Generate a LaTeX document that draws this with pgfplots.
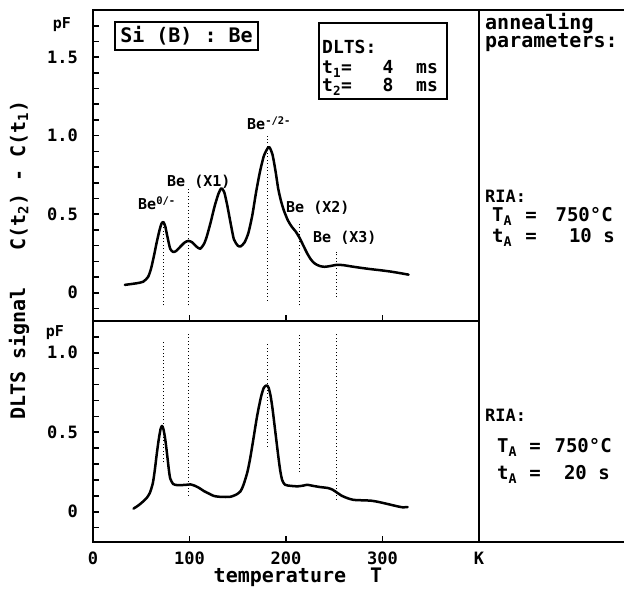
\documentclass[border=0pt]{standalone}
\usepackage{fontspec}
\setmainfont{DejaVu Sans Mono}
\usepackage{pgfplots}
\pgfplotsset{compat=1.18}
\newcommand\fs[1]{\fontsize{#1}{#1}\selectfont}
\pgfplotsset{
  panel/.style={
    scale only axis, width=386pt, xmin=0, xmax=400, clip=false,
    axis line style={line width=1.8pt},
    tick style={black, line width=1.6pt},
    major tick length=6pt, minor tick length=6pt,
    tick align=inside,
    xtick={0,100,200,300,400},
    xtick pos=bottom, ytick pos=left,
    yticklabel style={font=\fs{17pt}, anchor=east, xshift=-15pt, inner sep=0pt},
    xticklabel style={font=\fs{17pt}, anchor=base, yshift=-23pt, inner sep=0pt},
    /pgf/number format/assume math mode=true,
  },
  curve/.style={black, line width=2.5pt, smooth, tension=0.4, line join=round, line cap=round},
  markline/.style={black, line width=1pt, dash pattern=on 1pt off 2.5pt},
}
\begin{document}
\bfseries
\begin{tikzpicture}
\useasboundingbox (0pt,0pt) rectangle (624pt,599pt);
% ---------------- top panel ----------------
\begin{axis}[panel, name=top, at={(93pt,278pt)}, anchor=south west,
  height=311pt, ymin=-0.18, ymax=1.8,
  ytick={0,0.5,1,1.5}, yticklabels={0,0.5,1.0,1.5},
  minor ytick={-0.1,0.1,0.2,0.3,0.4,0.6,0.7,0.8,0.9,1.1,1.2,1.3,1.4,1.6,1.7},
  xticklabels={}]
\addplot[curve] coordinates {
(33,0.05) (45,0.06) (52,0.07) (57,0.10) (60,0.15) (63,0.23) (66,0.32) (69,0.40)
(71,0.44) (73,0.45) (75,0.42) (77,0.36) (80,0.28) (83,0.26) (86,0.265) (90,0.29)
(95,0.32) (99,0.33) (103,0.32) (107,0.295) (111,0.28) (115,0.31) (118,0.36)
(122,0.45) (126,0.55) (130,0.63) (133,0.665) (136,0.64) (139,0.56) (143,0.43)
(146,0.34) (150,0.30) (153,0.295) (157,0.32) (161,0.38) (165,0.49) (169,0.64)
(173,0.77) (177,0.87) (181,0.92) (183,0.925) (186,0.88) (189,0.78) (192,0.66)
(195,0.58) (198,0.52) (202,0.46) (206,0.42) (210,0.39) (214,0.35) (218,0.30)
(222,0.25) (226,0.21) (230,0.185) (235,0.17) (240,0.165) (246,0.17) (253,0.178)
(260,0.175) (267,0.168) (278,0.158) (288,0.15) (298,0.143) (308,0.135)
(318,0.125) (327,0.115)};
\addplot[markline] coordinates {(73,-0.08) (73,0.44)};
\addplot[markline] coordinates {(99,-0.08) (99,0.67)};
\addplot[markline] coordinates {(181,-0.05) (181,1.0)};
\addplot[markline] coordinates {(214,-0.08) (214,0.45)};
\addplot[markline] coordinates {(252,-0.03) (252,0.26)};
\end{axis}
% ---------------- bottom panel ----------------
\begin{axis}[panel, name=bot, at={(93pt,57pt)}, anchor=south west,
  height=221pt, ymin=-0.19, ymax=1.2,
  ytick={0,0.5,1}, yticklabels={0,0.5,1.0},
  minor ytick={-0.1,0.1,0.2,0.3,0.4,0.6,0.7,0.8,0.9,1.1},
  xticklabels={0,100,200,300,K}]
\addplot[curve] coordinates {
(42,0.02) (47,0.04) (52,0.065) (56,0.09) (59,0.12) (62,0.18) (64,0.26) (66,0.36)
(68,0.45) (70,0.52) (71.5,0.54) (73,0.52) (75,0.45) (77,0.35) (78.5,0.27)
(80,0.21) (83,0.175) (87,0.168) (92,0.168) (97,0.17) (101,0.172) (105,0.165)
(110,0.15) (115,0.13) (120,0.115) (125,0.10) (130,0.095) (137,0.093) (143,0.095)
(149,0.11) (153,0.13) (156,0.17) (160,0.25) (163,0.34) (166,0.45) (170,0.60)
(174,0.72) (177,0.78) (180,0.795) (182,0.78) (184,0.73) (186,0.65) (189,0.50)
(192,0.35) (194,0.26) (196,0.20) (199,0.17) (205,0.163) (212,0.16) (218,0.165)
(222,0.17) (228,0.163) (236,0.155) (243,0.15) (248,0.14) (253,0.12) (258,0.10)
(264,0.085) (270,0.075) (280,0.072) (288,0.07) (295,0.063) (301,0.055)
(308,0.045) (315,0.035) (321,0.028) (326,0.03)};
\addplot[markline] coordinates {(73,0.31) (73,1.07)};
\addplot[markline] coordinates {(99,0.10) (99,1.13)};
\addplot[markline] coordinates {(181,0.41) (181,1.07)};
\addplot[markline] coordinates {(214,0.25) (214,1.13)};
\addplot[markline] coordinates {(252,0.075) (252,1.13)};
\end{axis}
% frame extensions into right panel
\draw[line width=1.8pt] (top.north east) -- (624pt,589pt);
\draw[line width=1.8pt] (bot.south east) -- (624pt,57pt);
% units
\node[font=\fs{15pt}, inner sep=0pt] at (62pt,574pt) {pF};
\node[font=\fs{15pt}, inner sep=0pt] at (55pt,266pt) {pF};
% axis labels
\node[font=\fs{20pt}, inner sep=0pt, rotate=90] at (19pt,339pt)
  {DLTS signal~~~C(t\textsubscript{2})~-~C(t\textsubscript{1})};
\node[font=\fs{20pt}, inner sep=0pt, anchor=base] at (298pt,16pt) {temperature~~T};
% sample box
\node[font=\fs{20pt}, draw, line width=1.5pt, minimum width=143pt, minimum height=28pt, inner sep=0pt]
  at (186.5pt,563pt) {Si (B) : Be};
% DLTS box
\draw[line width=1.6pt] (319pt,576pt) rectangle (447pt,500pt);
\node[font=\fs{18pt}, inner sep=0pt, anchor=base west] at (322pt,545pt) {DLTS:};
\node[font=\fs{18pt}, inner sep=0pt, anchor=base west] at (322pt,525pt) {t\textsubscript{1}=};
\node[font=\fs{18pt}, inner sep=0pt, anchor=base] at (388pt,525pt) {4};
\node[font=\fs{18pt}, inner sep=0pt, anchor=base] at (427pt,525pt) {ms};
\node[font=\fs{18pt}, inner sep=0pt, anchor=base west] at (322pt,507pt) {t\textsubscript{2}=};
\node[font=\fs{18pt}, inner sep=0pt, anchor=base] at (388pt,507pt) {8};
\node[font=\fs{18pt}, inner sep=0pt, anchor=base] at (427pt,507pt) {ms};
% peak labels
\node[font=\fs{15pt}, inner sep=0pt, anchor=base west] at (138pt,389pt) {Be\textsuperscript{0/-}};
\node[font=\fs{15pt}, inner sep=0pt, anchor=base west] at (167pt,412pt) {Be (X1)};
\node[font=\fs{15pt}, inner sep=0pt, anchor=base west] at (247pt,469pt) {Be\textsuperscript{-/2-}};
\node[font=\fs{15pt}, inner sep=0pt, anchor=base west] at (286pt,386pt) {Be (X2)};
\node[font=\fs{15pt}, inner sep=0pt, anchor=base west] at (313pt,356pt) {Be (X3)};
% right panel
\node[font=\fs{20pt}, inner sep=0pt, anchor=base west] at (485pt,569pt) {annealing};
\node[font=\fs{20pt}, inner sep=0pt, anchor=base west] at (485pt,551pt) {parameters:};
\node[font=\fs{17pt}, inner sep=0pt, anchor=base west] at (485pt,396pt) {RIA:};
\node[font=\fs{19pt}, inner sep=0pt, anchor=base west] at (492pt,377pt) {T\textsubscript{A}};
\node[font=\fs{19pt}, inner sep=0pt, anchor=base] at (531pt,377pt) {=};
\node[font=\fs{19pt}, inner sep=0pt, anchor=base east] at (613pt,377pt) {750°C};
\node[font=\fs{19pt}, inner sep=0pt, anchor=base west] at (492pt,356pt) {t\textsubscript{A}};
\node[font=\fs{19pt}, inner sep=0pt, anchor=base] at (531pt,356pt) {=};
\node[font=\fs{19pt}, inner sep=0pt, anchor=base east] at (615pt,356pt) {10 s};
\node[font=\fs{17pt}, inner sep=0pt, anchor=base west] at (485pt,177pt) {RIA:};
\node[font=\fs{19pt}, inner sep=0pt, anchor=base west] at (497pt,146pt) {T\textsubscript{A}};
\node[font=\fs{19pt}, inner sep=0pt, anchor=base] at (535pt,146pt) {=};
\node[font=\fs{19pt}, inner sep=0pt, anchor=base east] at (612pt,146pt) {750°C};
\node[font=\fs{19pt}, inner sep=0pt, anchor=base west] at (497pt,119pt) {t\textsubscript{A}};
\node[font=\fs{19pt}, inner sep=0pt, anchor=base] at (535pt,119pt) {=};
\node[font=\fs{19pt}, inner sep=0pt, anchor=base east] at (610pt,119pt) {20 s};
\end{tikzpicture}
\end{document}
